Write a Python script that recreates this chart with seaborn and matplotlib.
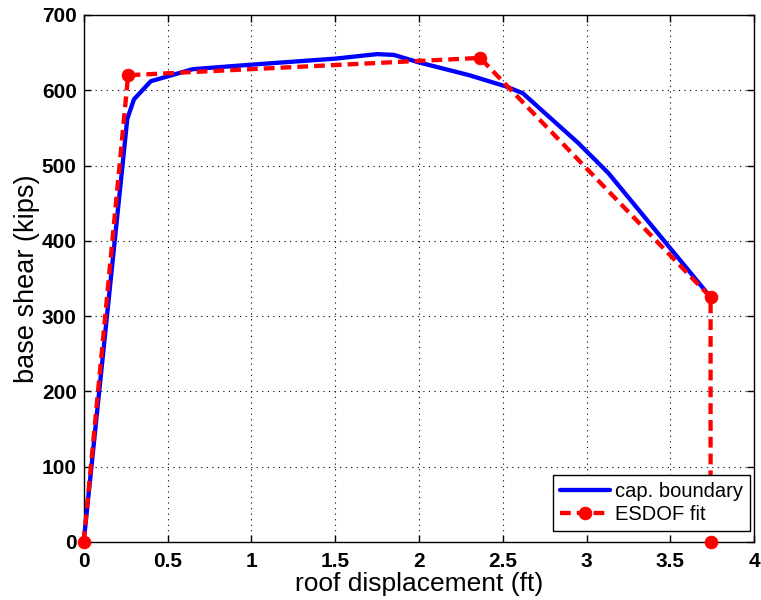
import matplotlib
matplotlib.use("Agg")
import matplotlib.pyplot as plt
import seaborn as sns
import pandas as pd

# capacity boundary
cap_x = [0.0, 0.26, 0.30, 0.40, 0.65, 1.0, 1.5, 1.75, 1.85, 2.0, 2.3, 2.52, 2.62, 2.95, 3.13, 3.74]
cap_y = [0, 562, 588, 612, 628, 634, 642, 648, 647, 637, 620, 605, 596, 530, 490, 325]

# ESDOF fit
fit_x = [0.0, 0.265, 2.365, 3.74, 3.74]
fit_y = [0, 620, 643, 325, 0]

xticks = [0, 0.5, 1, 1.5, 2, 2.5, 3, 3.5, 4]
xticklabels = ["0", "0.5", "1", "1.5", "2", "2.5", "3", "3.5", "4"]
yticks = [0, 100, 200, 300, 400, 500, 600, 700]

sns.set_style("white")
plt.rcParams["font.family"] = ["Liberation Sans", "DejaVu Sans"]
plt.rcParams["text.color"] = "black"
plt.rcParams["axes.labelcolor"] = "black"

fig = plt.figure(figsize=(7.61, 6.0), dpi=100)
ax = fig.add_axes([0.110, 0.097, 0.881, 0.878])

cap_df = pd.DataFrame({"x": cap_x, "y": cap_y})
fit_df = pd.DataFrame({"x": fit_x, "y": fit_y})

sns.lineplot(data=cap_df, x="x", y="y", sort=False, estimator=None, ax=ax,
             color="#0000ff", linewidth=3.1, label="cap. boundary", zorder=3)
sns.lineplot(data=fit_df, x="x", y="y", sort=False, estimator=None, ax=ax,
             color="#ff0000", linewidth=3.1, linestyle=(0, (2.5, 1.4)), marker="o",
             markersize=9, markeredgecolor="#ff0000", markerfacecolor="#ff0000",
             label="ESDOF fit", zorder=4)
for ln in ax.get_lines():
    ln.set_clip_on(False)

ax.set_xlim(0, 4)
ax.set_ylim(0, 700)
ax.set_xticks(xticks)
ax.set_xticklabels(xticklabels)
ax.set_yticks(yticks)
ax.tick_params(direction="in", length=5, width=1, labelsize=15, top=True, right=True,
               bottom=True, left=True, colors="black", labelcolor="black")
ax.tick_params(axis="x", pad=7)
ax.tick_params(axis="y", pad=5)
for lab in ax.get_xticklabels() + ax.get_yticklabels():
    lab.set_fontweight("bold")
ax.grid(True, linestyle=(0, (1, 4)), color="black", linewidth=0.8)
for s in ax.spines.values():
    s.set_color("black")
    s.set_linewidth(1.0)

ax.set_xlabel("roof displacement (ft)", fontsize=19, labelpad=1, color="black")
ax.set_ylabel("base shear (kips)", fontsize=19.5, labelpad=1, color="black")

leg = ax.legend(loc="lower right", bbox_to_anchor=(0.994, 0.020), fontsize=14.5,
                frameon=True, fancybox=False, edgecolor="black", framealpha=1,
                borderaxespad=0, handlelength=2.5, borderpad=0.35,
                labelspacing=0.22, handletextpad=0.25)
leg.get_frame().set_linewidth(1.0)
for t in leg.get_texts():
    t.set_color("black")

fig.savefig("out.png", dpi=100)
